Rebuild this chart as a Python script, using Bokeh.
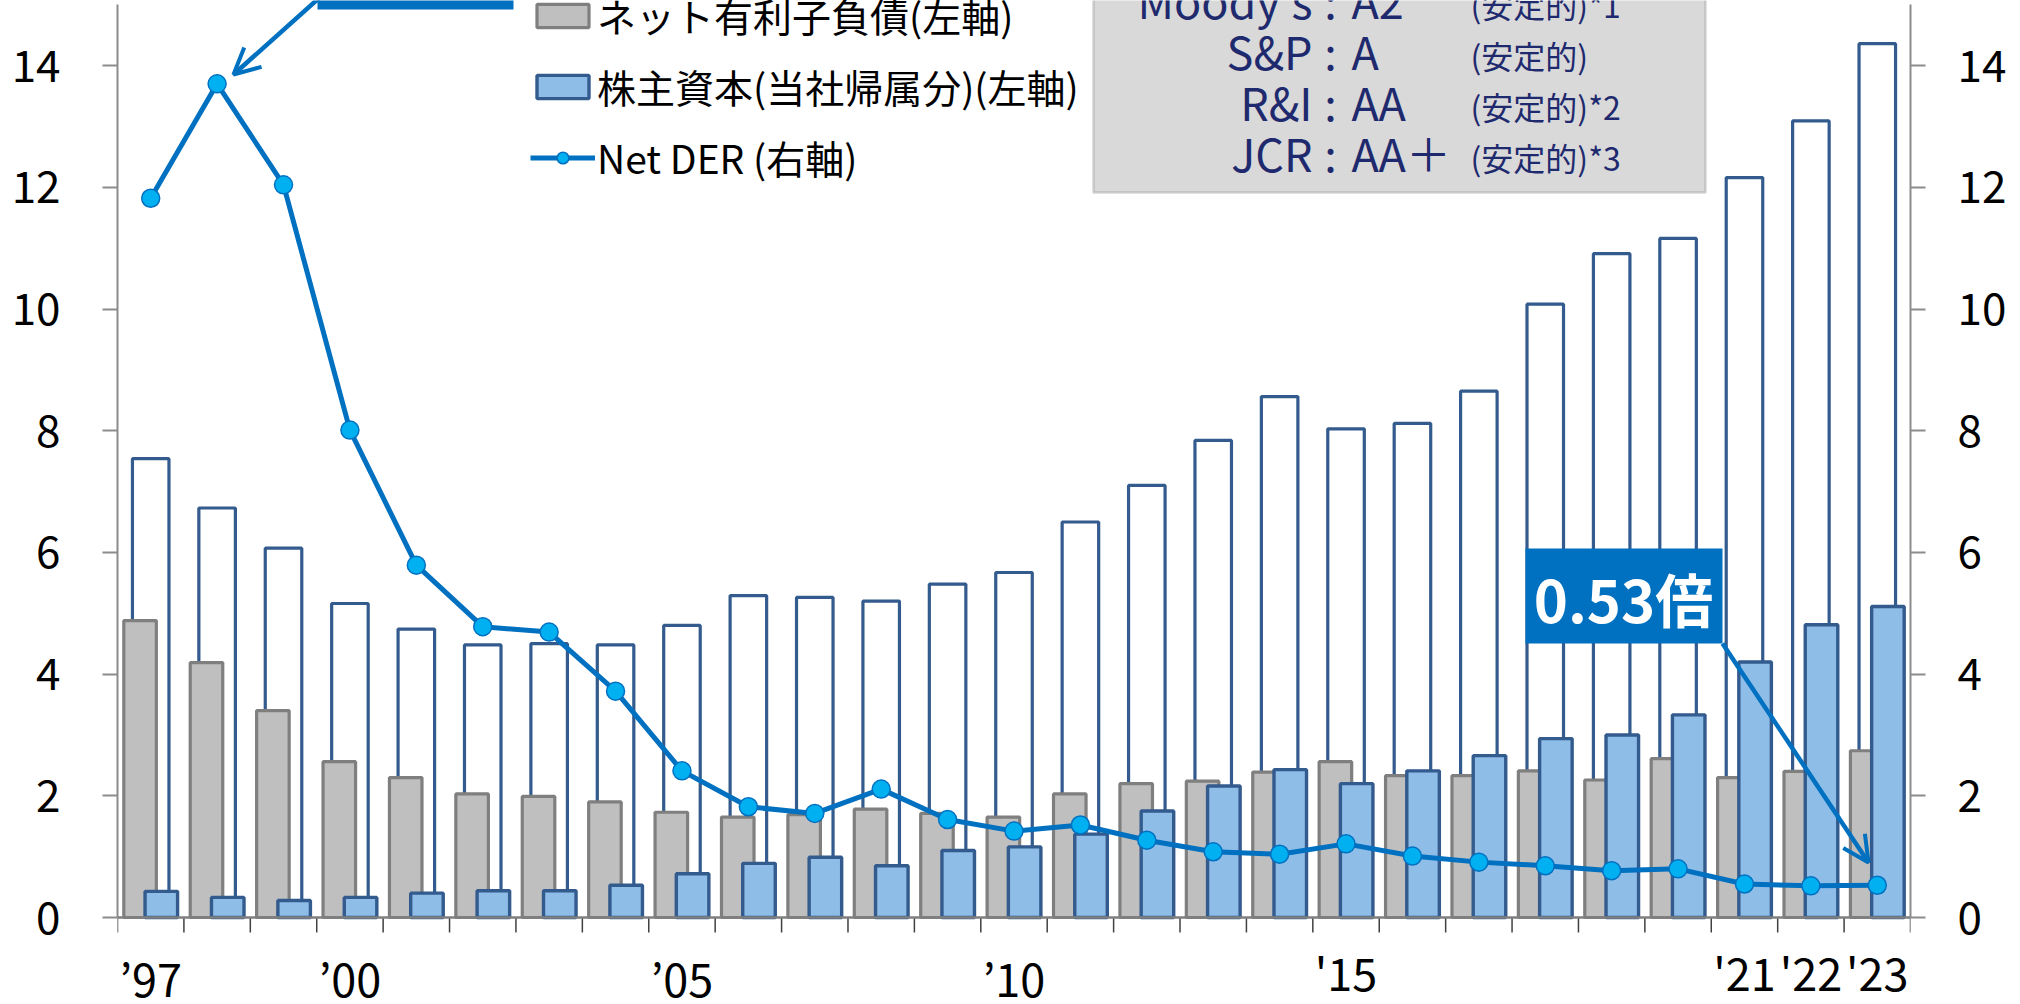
from bokeh.plotting import figure
from bokeh.models import (Range1d, FixedTicker, Legend, LegendItem, ColumnDataSource, LinearAxis,
                          BoxAnnotation, Label, LabelSet, Arrow, OpenHead, Span)
from bokeh.transform import dodge
from bokeh.core.properties import value
from bokeh.embed import file_html
from bokeh.resources import INLINE

# ---------------- data ----------------
years = list(range(1997, 2024))
year_labels = ["’97", "", "", "’00", "", "", "", "", "’05", "", "", "", "", "’10",
               "", "", "", "", "'15", "", "", "", "", "", "'21", "'22", "'23"]
net_debt = [4.88, 4.19, 3.40, 2.56, 2.30, 2.03, 1.99, 1.90, 1.73, 1.65, 1.69, 1.78, 1.71, 1.65,
            2.03, 2.20, 2.24, 2.39, 2.56, 2.33, 2.33, 2.41, 2.26, 2.61, 2.30, 2.40, 2.74]
total = [7.54, 6.73, 6.07, 5.16, 4.74, 4.48, 4.50, 4.48, 4.80, 5.29, 5.26, 5.20, 5.48, 5.67,
         6.50, 7.10, 7.84, 8.56, 8.03, 8.12, 8.65, 10.08, 10.91, 11.16, 12.16, 13.09, 14.36]
equity = [0.43, 0.33, 0.28, 0.33, 0.40, 0.44, 0.44, 0.53, 0.72, 0.89, 0.99, 0.85, 1.10, 1.16,
          1.37, 1.75, 2.16, 2.43, 2.20, 2.41, 2.66, 2.94, 3.00, 3.33, 4.20, 4.81, 5.11]
net_der = [11.82, 13.70, 12.04, 8.01, 5.79, 4.78, 4.69, 3.72, 2.41, 1.82, 1.71, 2.11, 1.61, 1.42,
           1.52, 1.27, 1.08, 1.04, 1.21, 1.01, 0.91, 0.85, 0.77, 0.80, 0.55, 0.52, 0.53]
legend_labels = ["ネット有利子負債(左軸)", "株主資本(当社帰属分)(左軸)", "Net DER (右軸)"]
rating_agency = ["Moody's", "S&P", "R&I", "JCR"]
rating_grade = ["A2", "A", "AA", "AA＋"]
rating_outlook = ["(安定的)*1", "(安定的)", "(安定的)*2", "(安定的)*3"]
callout_text = "0.53倍"
y_ticks = [0, 2, 4, 6, 8, 10, 12, 14]

# ---------------- layout helpers (reference pixel -> data) ----------------
W, H = 2020, 1004
AX_L, AX_R, AX_B = 117, 1910, 917.0
CAT_W = (AX_R - AX_L) / len(years)
PX_PER_UNIT = 60.85
Y_TOP = AX_B / PX_PER_UNIT
Y_BOT = -(H - AX_B) / PX_PER_UNIT
AXIS_TOP = 15.0


def px2x(rx):
    return -0.5 + (rx - AX_L) / CAT_W


def py2y(ry):
    return (AX_B - ry) / PX_PER_UNIT


FONT = "Noto Sans CJK JP"
NAVY = "#1F2A6E"

idx = list(range(len(years)))
src = ColumnDataSource(dict(x=idx, net_debt=net_debt, total=total, equity=equity, der=net_der))

p = figure(width=W, height=H, output_backend="svg", toolbar_location=None,
           x_axis_location=None,
           x_range=Range1d(-0.5, len(years) - 0.5), y_range=Range1d(Y_BOT, Y_TOP),
           min_border_left=AX_L, min_border_right=W - AX_R, min_border_top=0, min_border_bottom=0,
           background_fill_color="white", border_fill_color="white")
p.outline_line_color = None
p.grid.visible = False
p.extra_y_ranges = {"right": Range1d(Y_BOT, Y_TOP)}

# bars: outline (behind), net debt (gray), equity (blue)
p.vbar(x="x", top="total", width=0.55, bottom=0, source=src,
       fill_color=None, line_color="#335B8E", line_width=3.2)
r_gray = p.vbar(x=dodge("x", -0.16, range=p.x_range), top="net_debt", width=0.49, bottom=0,
                source=src, fill_color="#BFBFBF", line_color="#7F7F7F", line_width=3.2)
r_blue = p.vbar(x=dodge("x", 0.16, range=p.x_range), top="equity", width=0.49, bottom=0,
                source=src, fill_color="#8EBDE8", line_color="#335B8E", line_width=3.4)

# x axis line and category-boundary ticks
p.add_layout(Span(location=0, dimension="width", line_color="#7F7F7F", line_width=2.5))
bounds = [i - 0.5 for i in range(len(years) + 1)]
p.segment(x0=bounds, y0=[0] * len(bounds), x1=bounds, y1=[py2y(AX_B + 15)] * len(bounds),
          line_color="#404040", line_width=1.5)

# Net DER line (right axis)
r_line = p.line(x="x", y="der", source=src, y_range_name="right",
                line_color="#0070C0", line_width=5)
r_pts = p.scatter(x="x", y="der", source=src, y_range_name="right", marker="circle",
                  size=18, fill_color="#00B0F0", line_color="#0070C0", line_width=1.5)

# y axes
AX_COL = "#8C8C8C"


def style_axis(ax, standoff):
    ax.ticker = FixedTicker(ticks=y_ticks)
    ax.bounds = (0, AXIS_TOP)
    ax.axis_line_color = AX_COL
    ax.axis_line_width = 2
    ax.major_tick_line_color = AX_COL
    ax.major_tick_line_width = 2
    ax.major_tick_out = 15
    ax.major_tick_in = 0
    ax.minor_tick_line_color = None
    ax.major_label_text_font = FONT
    ax.major_label_text_font_size = "44px"
    ax.major_label_text_color = "black"
    ax.major_label_standoff = standoff


style_axis(p.yaxis[0], 42)
yr = LinearAxis(y_range_name="right")
style_axis(yr, 32)
p.add_layout(yr, "right")

# x tick labels (category labels); the older labels sit a little lower in the original
lab_x = [i for i, t in enumerate(year_labels) if t]
lab_t = [t for t in year_labels if t]
lab_y = [py2y(996) if t.startswith("’") else py2y(990) for t in lab_t]
xlab_src = ColumnDataSource(dict(x=lab_x, y=lab_y, text=lab_t))
p.add_layout(LabelSet(x="x", y="y", text="text", source=xlab_src,
                      text_font=value(FONT), text_font_size=value("45px"),
                      text_align="center", text_baseline="alphabetic", text_color="black"))

# legend
legend = Legend(items=[LegendItem(label=legend_labels[0], renderers=[r_gray]),
                       LegendItem(label=legend_labels[1], renderers=[r_blue]),
                       LegendItem(label=legend_labels[2], renderers=[r_line, r_pts])],
                location=(413, 819), orientation="vertical")
legend.padding = 0
legend.margin = 0
legend.border_line_color = None
legend.background_fill_alpha = 0
legend.glyph_width = 65
legend.glyph_height = 29
legend.label_height = 29
legend.label_standoff = 2
legend.spacing = 15
legend.label_text_font = FONT
legend.label_text_font_size = "39px"
legend.label_text_color = "black"
p.add_layout(legend, "center")

# rating box
p.add_layout(BoxAnnotation(left=px2x(1093), right=px2x(1705), bottom=py2y(192), top=py2y(-40),
                           fill_color="#D9D9D9", fill_alpha=1, line_color="#7F7F7F", line_width=2.5))
row_mid = [-1, 50, 101, 152]
for i in range(len(rating_agency)):
    yy = py2y(row_mid[i])
    p.add_layout(Label(x=px2x(1312), y=yy, text=rating_agency[i], text_font=FONT,
                       text_font_size="45px", text_color=NAVY, text_align="right",
                       text_baseline="middle"))
    p.add_layout(Label(x=px2x(1330), y=yy, text=":", text_font=FONT,
                       text_font_size="45px", text_color=NAVY, text_align="center",
                       text_baseline="middle"))
    p.add_layout(Label(x=px2x(1351), y=yy, text=rating_grade[i], text_font=FONT,
                       text_font_size="45px", text_color=NAVY, text_align="left",
                       text_baseline="middle"))
    p.add_layout(Label(x=px2x(1470), y=py2y(row_mid[i] + 4), text=rating_outlook[i], text_font=FONT,
                       text_font_size="32px", text_color=NAVY, text_align="left",
                       text_baseline="middle"))

# top-left callout (cropped) with arrow to 1998 peak
p.add_layout(BoxAnnotation(left=px2x(317), right=px2x(513), bottom=py2y(9), top=py2y(-60),
                           fill_color="#0070C0", fill_alpha=1, line_color=None))
p.add_layout(Arrow(end=OpenHead(size=26, line_color="#0070C0", line_width=4),
                   x_start=px2x(318), y_start=py2y(-2), x_end=px2x(233), y_end=py2y(74),
                   line_color="#0070C0", line_width=4.5))

# 0.53倍 callout
p.add_layout(BoxAnnotation(left=px2x(1525), right=px2x(1722), bottom=py2y(643), top=py2y(548),
                           fill_color="#0070C0", fill_alpha=1, line_color=None))
p.add_layout(Label(x=px2x(1623), y=py2y(597), text=callout_text, text_font=FONT,
                   text_font_size="58px", text_font_style="bold", text_color="white",
                   text_align="center", text_baseline="middle"))
p.add_layout(Arrow(end=OpenHead(size=26, line_color="#0070C0", line_width=4),
                   x_start=px2x(1722), y_start=py2y(643), x_end=px2x(1868), y_end=py2y(862),
                   line_color="#0070C0", line_width=4.5))

open("out.html", "w").write(file_html(p, INLINE))
